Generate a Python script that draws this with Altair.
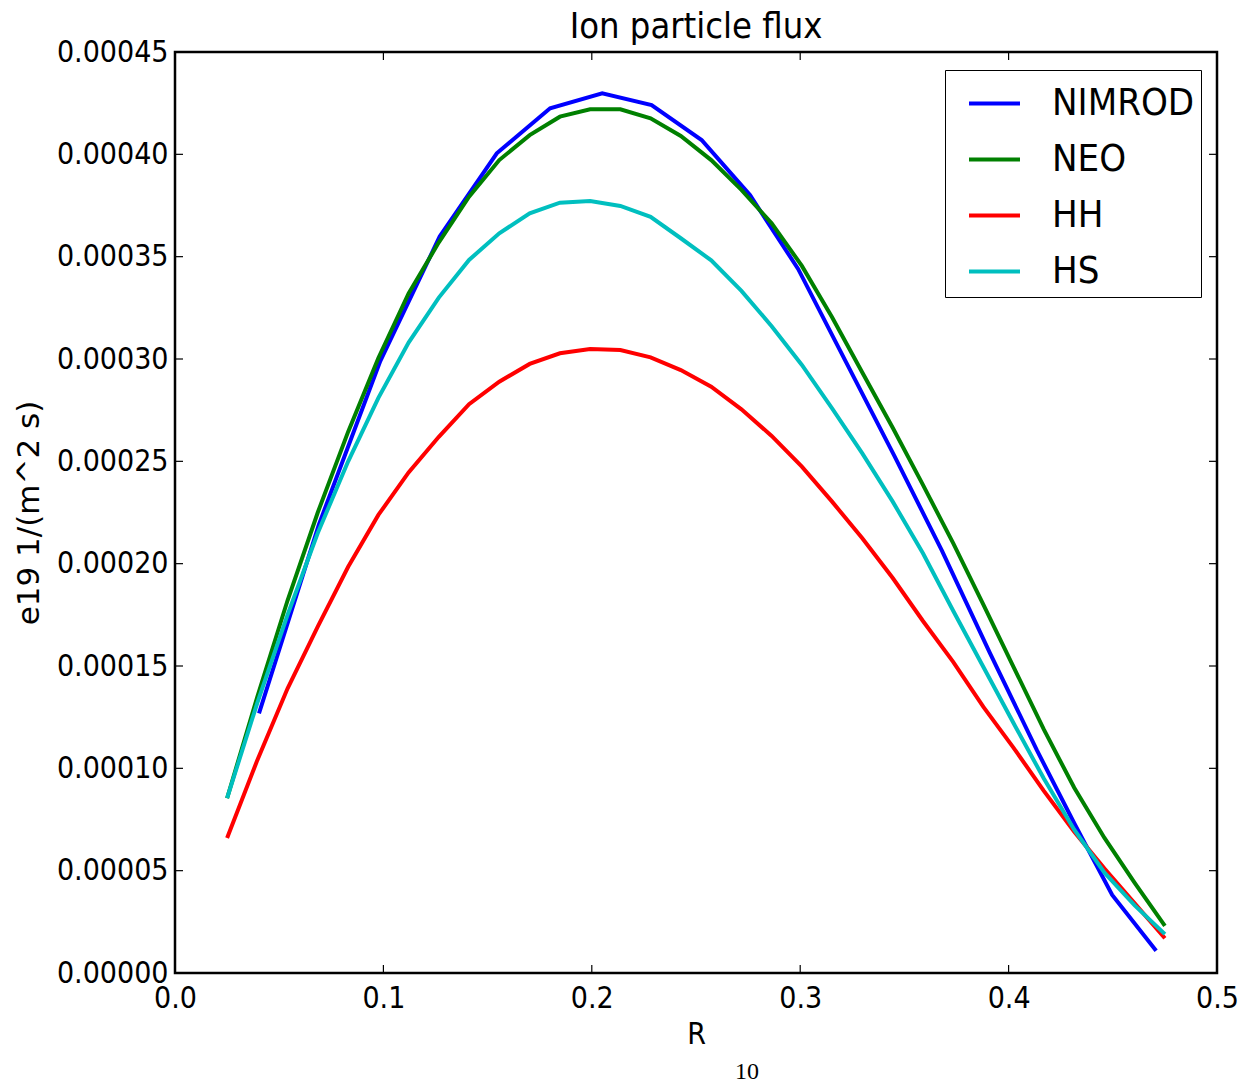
import altair as alt
import pandas as pd

# ---- data ----
series_names = ["NIMROD", "NEO", "HH", "HS"]
series_colors = ["#0000FF", "#008000", "#FF0000", "#00BFBF"]

# common radial grid (NEO, HH, HS)
r_grid = [0.0250, 0.0395, 0.0540, 0.0685, 0.0831, 0.0976, 0.1121, 0.1266,
          0.1411, 0.1556, 0.1702, 0.1847, 0.1992, 0.2137, 0.2282, 0.2427,
          0.2573, 0.2718, 0.2863, 0.3008, 0.3153, 0.3298, 0.3444, 0.3589,
          0.3734, 0.3879, 0.4024, 0.4169, 0.4315, 0.4460, 0.4605, 0.4750]

neo_flux = [0.854, 1.35, 1.82, 2.25, 2.645, 3.005, 3.32, 3.57,
            3.793, 3.972, 4.094, 4.184, 4.220, 4.220, 4.176, 4.090,
            3.972, 3.826, 3.663, 3.455, 3.204, 2.934, 2.664, 2.385,
            2.10, 1.80, 1.495, 1.19, 0.905, 0.66, 0.44, 0.23]

hh_flux = [0.66, 1.04, 1.39, 1.692, 1.985, 2.238, 2.446, 2.620,
           2.779, 2.889, 2.976, 3.028, 3.049, 3.044, 3.008, 2.946,
           2.865, 2.754, 2.624, 2.474, 2.303, 2.124, 1.93, 1.72,
           1.52, 1.30, 1.10, 0.89, 0.69, 0.51, 0.34, 0.17]

hs_flux = [0.854, 1.32, 1.75, 2.15, 2.50, 2.81, 3.08, 3.30,
           3.484, 3.614, 3.712, 3.764, 3.772, 3.748, 3.695, 3.59,
           3.482, 3.333, 3.16, 2.971, 2.759, 2.539, 2.303, 2.051,
           1.77, 1.495, 1.22, 0.95, 0.70, 0.49, 0.33, 0.19]

# NIMROD uses its own grid
r_nimrod = [0.0403, 0.0690, 0.0985, 0.1270, 0.1544, 0.1800, 0.2050, 0.2287,
            0.2527, 0.2759, 0.2990, 0.3220, 0.3450, 0.3680, 0.3910, 0.4135,
            0.4320, 0.4497, 0.4708]
nimrod_flux = [1.269, 2.19, 2.99, 3.598, 4.005, 4.225, 4.298, 4.241,
               4.070, 3.801, 3.44, 2.985, 2.53, 2.064, 1.564, 1.09,
               0.722, 0.381, 0.109]

flux_scale = 1e-4  # values above are in units of 1e-4

x_ticks = [0.0, 0.1, 0.2, 0.3, 0.4, 0.5]
y_ticks = [0.0, 0.00005, 0.0001, 0.00015, 0.0002, 0.00025, 0.0003,
           0.00035, 0.0004, 0.00045]

title_text = "Ion particle flux"
x_title = "R"
y_title = "e19 1/(m^2 s)"
page_number = "10"

# ---- build table ----
rows = []
for r, v in zip(r_nimrod, nimrod_flux):
    rows.append({"series": "NIMROD", "order": len(rows), "R": r, "flux": v * flux_scale})
for name, vals in [("NEO", neo_flux), ("HH", hh_flux), ("HS", hs_flux)]:
    for r, v in zip(r_grid, vals):
        rows.append({"series": name, "order": len(rows), "R": r, "flux": v * flux_scale})
df = pd.DataFrame(rows)

W, H = 1042, 921
FONT = "DejaVu Sans Condensed, DejaVu Sans"
TL = 8  # inward tick length

xs = alt.Scale(domain=[0, 0.5], nice=False, zero=False)
ys = alt.Scale(domain=[0, 0.00045], nice=False, zero=False)

x_axis = alt.Axis(title=x_title, values=x_ticks, format=".1f",
                  ticks=False, domain=False, grid=False,
                  labelFont=FONT, labelFontSize=30, labelColor="black",
                  labelPadding=10, titleFont=FONT, titleFontSize=30,
                  titleFontWeight="normal", titleColor="black",
                  titlePadding=6, labelFlush=False)
y_axis = alt.Axis(title=y_title, values=y_ticks, format=".5f",
                  ticks=False, domain=False, grid=False,
                  labelFont=FONT, labelFontSize=30, labelColor="black",
                  labelPadding=7, titleFont="DejaVu Sans", titleFontSize=31,
                  titleFontWeight="normal", titleColor="black",
                  titlePadding=11, labelFlush=False)

lines = alt.Chart(df).mark_line(strokeWidth=4, clip=True).encode(
    x=alt.X("R:Q", scale=xs, axis=x_axis),
    y=alt.Y("flux:Q", scale=ys, axis=y_axis),
    color=alt.Color("series:N",
                    scale=alt.Scale(domain=series_names, range=series_colors),
                    legend=alt.Legend(title=None, orient="none",
                                      legendX=770, legendY=18,
                                      symbolType="stroke", symbolSize=2600,
                                      symbolStrokeWidth=4, symbolOffset=16,
                                      labelFont=FONT, labelFontSize=38,
                                      labelColor="black", labelOffset=30,
                                      rowPadding=9, padding=6,
                                      strokeColor="black", fillColor="white",
                                      labelLimit=400)),
    order="order:Q",
    detail="series:N",
)

xt = pd.DataFrame({"R": x_ticks})
yt = pd.DataFrame({"flux": y_ticks})

xtick_bottom = alt.Chart(xt).mark_rule(color="black", strokeWidth=1.2).encode(
    x=alt.X("R:Q", scale=xs, axis=x_axis), y=alt.value(H), y2=alt.value(H - TL))
xtick_top = alt.Chart(xt).mark_rule(color="black", strokeWidth=1.2).encode(
    x=alt.X("R:Q", scale=xs, axis=x_axis), y=alt.value(0), y2=alt.value(TL))
ytick_left = alt.Chart(yt).mark_rule(color="black", strokeWidth=1.2).encode(
    y=alt.Y("flux:Q", scale=ys, axis=y_axis), x=alt.value(0), x2=alt.value(TL))
ytick_right = alt.Chart(yt).mark_rule(color="black", strokeWidth=1.2).encode(
    y=alt.Y("flux:Q", scale=ys, axis=y_axis), x=alt.value(W), x2=alt.value(W - TL))

page = alt.Chart(pd.DataFrame({"txt": [page_number]})).mark_text(
    font="Liberation Serif", fontSize=24, color="black", align="center",
    baseline="middle").encode(text="txt:N", x=alt.value(572), y=alt.value(1020))

chart = alt.layer(lines, xtick_bottom, xtick_top, ytick_left, ytick_right, page).properties(
    width=W, height=H,
    background="white",
    title=alt.Title(title_text, font=FONT, fontSize=36, fontWeight="normal",
                    color="black", frame="group", offset=8, dy=17),
    autosize=alt.AutoSizeParams(type="none"),
    padding={"left": 175, "top": 52, "right": 30, "bottom": 118},
).configure_view(stroke="black", strokeWidth=2.5)

chart.save("out.html", embed_options={"renderer": "svg", "actions": False})
